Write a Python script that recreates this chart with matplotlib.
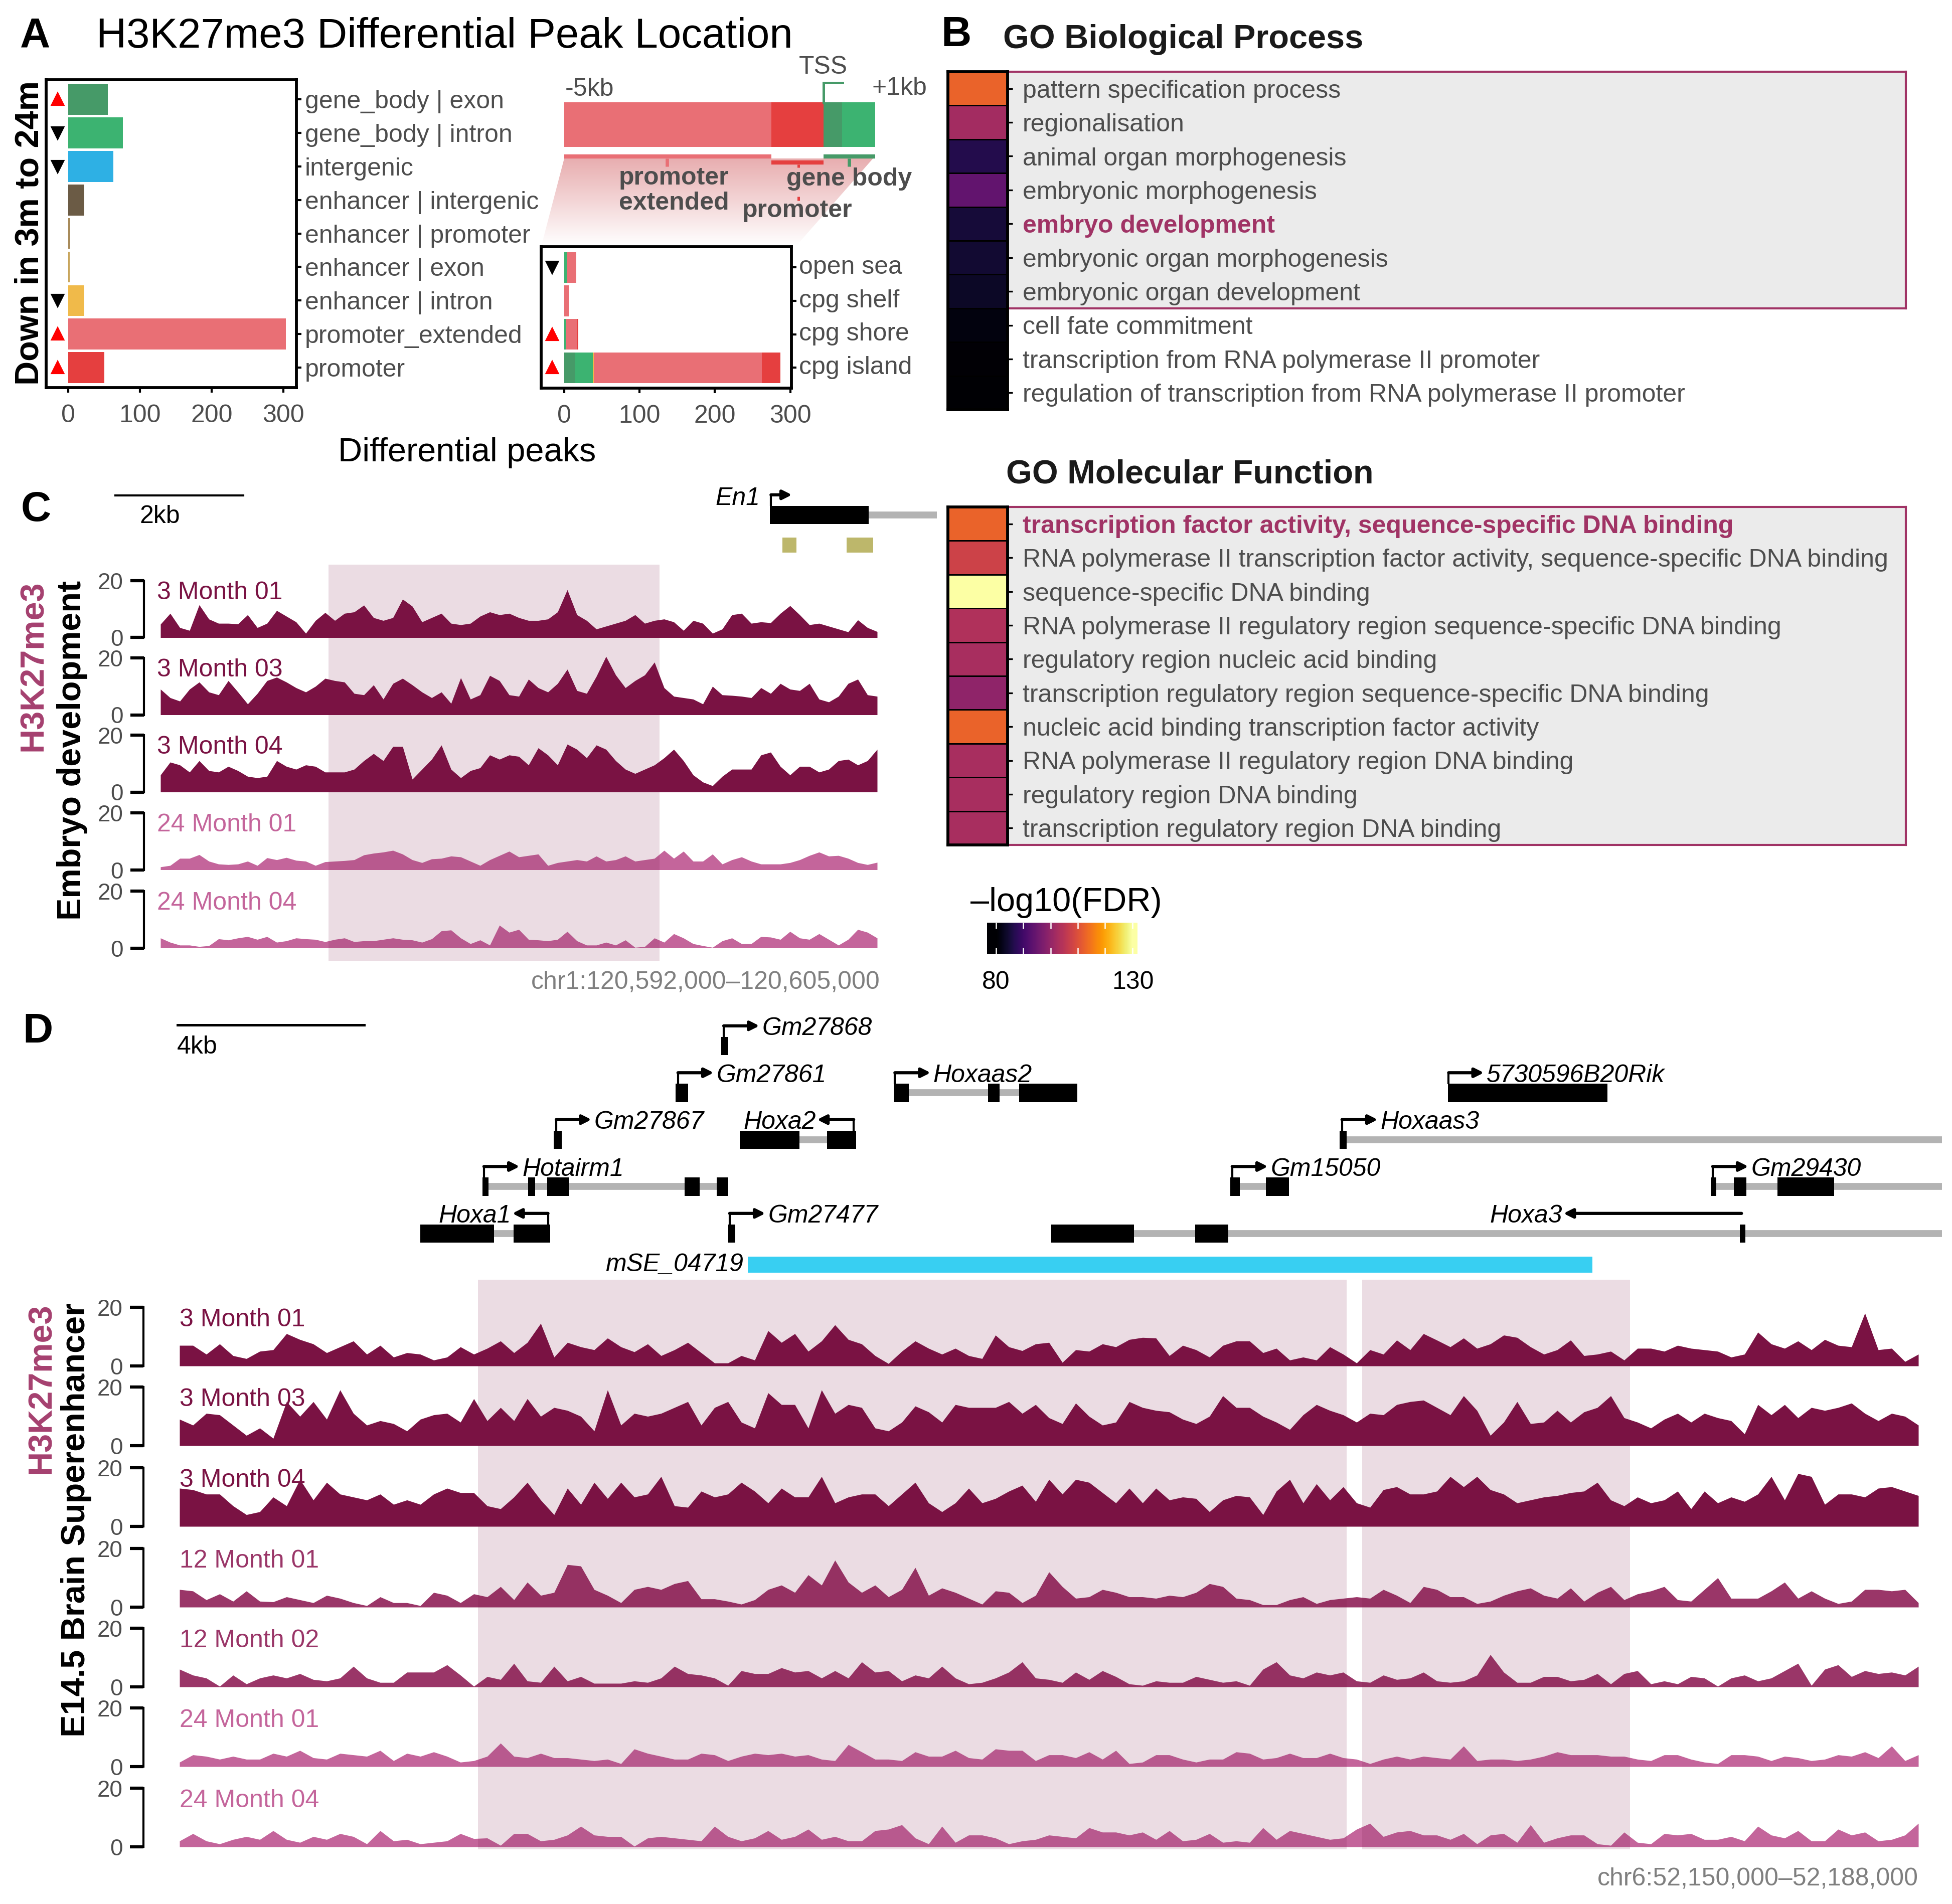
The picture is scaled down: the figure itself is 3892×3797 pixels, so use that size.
import matplotlib
matplotlib.use('Agg')
import matplotlib.pyplot as plt
import numpy as np
from matplotlib.colors import LinearSegmentedColormap
from matplotlib.patches import Polygon, Rectangle
from matplotlib.transforms import ScaledTranslation

plt.rcParams['font.family'] = ['Liberation Sans', 'DejaVu Sans']
plt.rcParams['font.size'] = 12

W, H = 3892, 3797
GREY = '#4D4D4D'
SHADE = '#7A1644'

# === Panel A ===
region_names = ['promoter', 'promoter_extended', 'enhancer | intron', 'enhancer | exon', 'enhancer | promoter',
                'enhancer | intergenic', 'intergenic', 'gene_body | intron', 'gene_body | exon']
region_peaks = [50, 303, 22, 2, 2.5, 22, 63, 76, 55]
region_colors = ['#E53F3F', '#E96F75', '#F0BA4A', '#C8A55C', '#A88B5B', '#6B5B45', '#2EB0E4', '#3CB371', '#469A68']
region_up = [0, 1, 8]
region_down = [2, 6, 7]

cpg_names = ['cpg island', 'cpg shore', 'cpg shelf', 'open sea']
cpg_exon = [15, 0, 0, 0]
cpg_intron = [23, 3, 0, 4]
cpg_enh = [1, 0, 0, 0]
cpg_ext = [223, 13.5, 6, 12]
cpg_prom = [25, 2, 0, 0]
cpg_up = [0, 1]
cpg_down = [3]

# -5kb..+1kb schematic, in kb around the TSS
tss_edges = [-5, -1, 0, 0.36, 1]
tss_colors = ['#E96F75', '#E53F3F', '#469A68', '#3CB371']

# === Panel B ===
bp_terms = ['pattern specification process', 'regionalisation', 'animal organ morphogenesis',
            'embryonic morphogenesis', 'embryo development', 'embryonic organ morphogenesis',
            'embryonic organ development', 'cell fate commitment', 'transcription from RNA polymerase II promoter',
            'regulation of transcription from RNA polymerase II promoter']
bp_fdr = [112.5, 102, 86.5, 94, 85, 84.3, 83.5, 81.2, 80.2, 80]
mf_terms = ['transcription factor activity, sequence-specific DNA binding',
            'RNA polymerase II transcription factor activity, sequence-specific DNA binding',
            'sequence-specific DNA binding', 'RNA polymerase II regulatory region sequence-specific DNA binding',
            'regulatory region nucleic acid binding', 'transcription regulatory region sequence-specific DNA binding',
            'nucleic acid binding transcription factor activity', 'RNA polymerase II regulatory region DNA binding',
            'regulatory region DNA binding', 'transcription regulatory region DNA binding']
mf_fdr = [112.5, 107.5, 130, 103.5, 102.5, 99.5, 112.5, 102.5, 102.5, 102.5]

# === Panel C tracks ===
c_3m01 = [4.7, 8.5, 3.5, 2.5, 11.5, 6.5, 5, 5, 4.8, 8, 3.5, 5, 9.5, 7.5, 5.5, 1.5, 6, 8.8, 6, 8.5, 9, 11.4, 7, 6, 7,
          13.5, 11, 5.5, 7, 8.5, 5, 4.5, 5, 7.5, 9, 8, 8.5, 7, 6, 6, 6.5, 9, 16.8, 8, 6, 3, 4, 5, 6, 8, 5, 6, 6.5,
          5.5, 2.5, 6, 5, 1.5, 3, 8, 8.5, 5, 5.5, 5.2, 8.5, 11.2, 8, 4.5, 5, 4, 3, 2, 6.2, 3.5, 2.1]
c_3m03 = [9, 6, 4.8, 9, 11.5, 8, 7, 12, 8, 3.8, 7.5, 12, 13.2, 11.5, 9.5, 8, 10, 12.8, 12, 11.5, 7.5, 7, 10.5, 5.5,
          11, 12.8, 10.5, 8, 6, 8, 4, 13, 5.5, 7, 13.8, 12, 7, 6.5, 12.5, 9.5, 8, 11, 16, 8.5, 7.5, 13.5, 20.5, 14,
          9.5, 12, 14, 18.5, 9.5, 6.5, 6, 5.5, 3.8, 10, 7, 6.8, 6.5, 6, 9.5, 7.5, 11, 9, 8.5, 11, 5.5, 4.5, 6.5, 11,
          12.5, 7, 6.5]
c_3m04 = [6, 10.5, 9.5, 7, 11, 7.5, 7, 9, 7.5, 5.5, 5, 5.5, 11, 9, 8, 9.5, 9, 7, 7, 7, 8, 11, 13.5, 11, 16, 16, 4.5,
          8, 11.5, 16.5, 8, 5, 7.5, 8.5, 13, 11.5, 13, 12.5, 9.5, 15.5, 13, 9.5, 16.8, 15, 12, 16.5, 15, 11, 8, 6.5,
          8, 9.5, 12, 15, 11, 6, 3.5, 2.2, 5.5, 8, 8, 8, 13, 14, 9, 6, 9, 9, 7, 8, 11, 11.5, 9.5, 11, 15]
c_24m01 = [1, 1.5, 4, 4, 5.3, 3, 2, 1.8, 2, 3, 1.5, 4.2, 3.5, 4.3, 3.3, 3, 1.5, 2.8, 3, 3.2, 3.5, 5.2, 5.8, 6.2, 6.8,
           5.5, 3.5, 2.5, 3.8, 4, 4.8, 4.5, 3, 1.5, 3.5, 5, 6.5, 4.5, 5, 5.5, 1.5, 2.5, 3, 3.5, 3, 4.8, 3, 3.5, 4.8,
           3, 3.5, 4, 6.8, 4, 6.5, 3, 3, 5.5, 2, 3.5, 4.5, 3, 2, 2, 2, 2.5, 3.5, 5, 6.2, 4.8, 5, 4, 2.5, 1.8, 2.6]
c_24m04 = [3.5, 2, 1, 1, 0.5, 0.8, 3.2, 2.8, 3.5, 4, 3, 4, 2, 2.5, 3.5, 3.2, 3, 2.2, 3, 3.5, 2.2, 2.5, 2.5, 3, 3.5, 3,
           2.8, 2, 3.2, 6, 6.3, 3.5, 1.5, 2.8, 1, 8, 5.5, 6.5, 3, 2.8, 2.5, 3, 5.8, 2.5, 1, 1, 2, 1, 2.8, 0.2, 0.5,
           3.5, 2, 5, 3.5, 1.5, 0.8, 0.2, 2.5, 3.5, 1.5, 1.5, 4, 3.8, 3, 5.8, 3.5, 3, 5, 3, 1, 3, 6.5, 5.5, 3.5]
c_names = ['3 Month 01', '3 Month 03', '3 Month 04', '24 Month 01', '24 Month 04']
c_tracks = [c_3m01, c_3m03, c_3m04, c_24m01, c_24m04]
c_colors = ['#7A1243', '#7A1243', '#7A1243', '#C4659B', '#C4659B']
c_shade = [(3.05, 9.05)]

# === Panel D tracks ===
d_3m01 = [7, 7, 4, 7.5, 3.5, 2.5, 5, 5.5, 11, 9, 7.5, 4.5, 6.5, 8.5, 4, 7, 3, 4.5, 4, 2, 3, 6.5, 4, 6, 8.5, 4.5, 8,
          14.5, 3, 8, 6.5, 5.5, 9.5, 6.5, 4.8, 7.5, 3.5, 5.5, 8, 4.5, 1, 1, 3.5, 2, 12, 8, 11, 5, 8.5, 14, 9, 7.5,
          3.5, 0.8, 5, 8.5, 6, 4, 6, 3.5,
          2.5, 10.5, 6.5, 5.2, 7.5, 8, 1.2, 5.5, 5, 7.5, 6.5, 9, 9.7, 9.5, 3.5, 7, 5.5, 3, 7, 8.5, 8.5, 4.5, 6, 2, 3,
          2, 6.5, 4, 1, 5.5, 4, 8.8, 5.5, 11, 8.8, 6.5, 9.5, 6, 7.5, 10.5, 9.7, 6.5, 4, 5.5, 8.8, 3.5, 4, 5, 2, 6, 6,
          5, 7, 6, 5.5, 5, 3, 4, 11.5, 7.5, 6, 8.5, 5.5, 9, 7, 6.5, 18, 5.5, 6, 1.5, 4]
d_3m03 = [9, 7, 11, 10.5, 7, 3.5, 6, 2.5, 15, 10, 15, 9, 19, 11, 7, 8.5, 7.5, 5, 9, 10.5, 11, 8, 16, 8.5, 13, 8.5, 16,
          10, 13, 12, 10, 5, 19, 7, 11, 10, 11, 13, 15, 7, 13, 15, 8, 6, 18, 14, 14, 6, 19, 11, 14, 13, 6, 5, 8, 13.5,
          11.5, 8, 14, 13,
          13, 13, 15, 11, 14, 9.5, 7.5, 14.5, 10, 7, 8, 15, 13, 12, 11.5, 9, 7.5, 10, 17, 13, 13, 10, 8, 5.5, 10.5, 14,
          12, 10.5, 8, 11, 10.5, 14, 15, 15.5, 13, 10.5, 17, 12, 3.5, 8, 15, 7.5, 8, 12, 8, 11.5, 13, 17, 9.5, 8, 6, 9,
          11, 8, 11, 9.5, 8.5, 4, 14, 10.5, 14, 9.5, 13, 12, 13, 14.5, 11, 8.5, 11, 10, 7]
d_3m04 = [13, 12.5, 11, 11, 7, 4, 5, 10, 7, 16, 9, 15, 11, 10, 9, 11, 7.5, 9, 7.5, 11, 13, 11.5, 11.5, 7, 6, 10, 15, 9,
          4, 13, 7.5, 15, 9.5, 15, 10, 11, 17, 7, 6.5, 12, 10, 11, 15, 12, 8, 13, 10, 10, 17, 8, 10, 11, 11, 7, 11, 15,
          8, 5, 8, 13,
          8, 9.5, 12, 14, 8.5, 16, 11, 16, 15, 11.5, 8, 13, 8, 13, 9, 10, 9.5, 5, 9, 10.5, 10, 4, 12, 16, 8, 14.5, 9,
          13.5, 8, 6.5, 12.5, 13.5, 11, 11, 12, 17, 13.5, 17, 12.5, 11, 8, 9, 10, 10.5, 11.5, 12, 15, 9, 7, 10, 8, 9,
          12, 6, 12, 8, 10, 8.5, 11, 17, 9, 18, 17, 7.5, 11, 11, 10, 13, 13.5, 12, 10.5]
d_12m01 = [6, 5.5, 2.5, 4.5, 2, 5.5, 2, 1.8, 3.5, 2.5, 1.5, 4, 3, 1.5, 0.5, 3.5, 1.5, 1.5, 0.5, 5, 4, 1.5, 4.5, 3.5, 7,
           2.5, 8.5, 4, 5, 14.5, 14, 6, 4, 1.5, 6, 7, 6, 8, 9, 2.8, 2.8, 2, 1, 2.5, 6, 7.5, 5, 11, 7.5, 16, 8.5, 5, 7.5,
           3.5, 6, 13.5, 4, 6.5, 5, 3,
           1, 5.5, 5, 1.5, 4, 12, 7, 3, 3.5, 6, 5, 3.5, 3.5, 3, 4, 3.5, 5, 8, 7, 3, 2.5, 0.8, 0.8, 2.5, 3.5, 1.2, 2.5, 3,
           3.5, 3, 6, 4, 1.5, 7, 6, 3.5, 3.5, 1.2, 2, 4, 5.5, 6.5, 4, 3, 6.5, 2, 5, 7, 2.5, 4.5, 5.5, 7, 2.5, 2, 6, 10,
           3, 3, 3, 5.5, 8.5, 3, 5.5, 3, 1.2, 2, 6, 6, 5.5, 6, 1.5]
d_12m02 = [6, 4, 3, 0.2, 4, 1, 3, 4, 3, 4.5, 2.5, 2, 3, 7, 3, 1.5, 1.5, 5, 5, 5, 7.5, 4, 0.2, 3.5, 2.5, 8, 2, 1.5, 7,
           2, 3.5, 1.2, 1.2, 1.2, 2, 1.5, 3, 7, 4.5, 4, 3, 0.5, 5.5, 4.5, 4.5, 6.5, 5, 5.5, 3, 5.5, 3, 8.5, 5, 5.5, 2,
           4, 3, 7, 3, 1,
           1.5, 3, 5, 8.5, 3, 2.5, 1.5, 5, 2.5, 5.5, 3.5, 1, 0.5, 2, 1.5, 1.5, 3.5, 2.5, 1.5, 2, 0.5, 6, 8.5, 4, 3, 5, 4,
           5, 2, 1.5, 4, 2.5, 3, 5, 2, 1.5, 2, 4, 11, 5, 1.5, 1.5, 3.5, 3.5, 2, 2.5, 4.5, 1, 4.5, 5.5, 1, 2, 1, 3.5, 3,
           0.2, 3, 4, 2, 3, 5.5, 8, 0.5, 6, 7.5, 3.5, 5.5, 4.5, 5, 4, 7]
d_24m01 = [1.5, 4, 3.5, 2.5, 3.5, 2.5, 2.5, 4.5, 3.5, 5.5, 3, 2.5, 4.5, 4, 3.5, 5.5, 2, 4.5, 3.5, 5, 3.5, 1.5, 2, 3.5,
           8, 3.5, 3, 4.5, 3, 3, 2.5, 2, 2.5, 1, 6, 4.5, 3.5, 2.5, 2.5, 4.5, 4, 2, 3.5, 4.5, 4, 4.5, 3.5, 4, 2.5, 2,
           7.5, 5, 2.5, 2.5, 2, 5, 3.5, 3.5, 5.5, 3,
           2.5, 6, 5.5, 5.5, 2, 4, 4, 3, 5, 2.5, 5.5, 1, 1.5, 4, 4, 2.5, 1.5, 2.5, 2.5, 5, 4.5, 2.5, 3, 4.5, 3, 3, 4.5,
           3, 2.5, 1, 2.5, 3.5, 2.5, 3.5, 3, 2.5, 7, 2, 2.5, 2.5, 2, 2.5, 3.5, 5, 4, 4, 4, 3.5, 3.5, 2.5, 2, 4, 4, 2.5,
           1.5, 1, 4, 4, 3.5, 2, 3.5, 3, 2, 2.5, 4, 3.5, 5, 3, 7, 2, 4]
d_24m04 = [2, 4.5, 2, 1, 2.5, 3.5, 2.5, 5.5, 2.5, 1.5, 3.5, 2.5, 4.5, 3.5, 1, 5.5, 2, 2.5, 1, 1.5, 2, 4.5, 2.8, 3, 0.5,
           4.5, 4.5, 2, 2.5, 4, 7, 4, 3.5, 3.5, 0.2, 3, 3.5, 3, 2.5, 2, 7, 3.5, 2, 3, 5.5, 2.5, 3.5, 6, 2.5, 3.5, 2, 2,
           5.5, 6, 7.5, 3, 1, 7, 1.5, 4,
           4, 3, 1, 2, 2.5, 4, 3.5, 3, 6.5, 5, 5, 4, 5, 2.5, 5.5, 2, 2.5, 4.5, 1.5, 2, 1.5, 6.5, 2.5, 5.5, 4.5, 3.5, 2.5,
           3, 6, 8, 3.5, 5, 5.5, 4, 4, 2.5, 4.5, 1, 4, 4.5, 1.5, 7.5, 1.5, 3, 4, 4, 1, 0.5, 5, 1.5, 1, 4.5, 4, 4.5, 2.5,
           2.5, 3.5, 2, 7, 4, 3, 5.5, 2, 2, 6, 4, 5, 2, 2.5, 4, 8]
d_names = ['3 Month 01', '3 Month 03', '3 Month 04', '12 Month 01', '12 Month 02', '24 Month 01', '24 Month 04']
d_tracks = [d_3m01, d_3m03, d_3m04, d_12m01, d_12m02, d_24m01, d_24m04]
d_colors = ['#7A1243', '#7A1243', '#7A1243', '#9A3668', '#9A3668', '#C4659B', '#C4659B']
d_shade = [(6.52, 25.5), (25.84, 31.7)]

# genes in kb from the window start: row, tss, arrow tip, exons, intron span, name
d_genes = [
    (4, 11.89, 12.67, [(11.84, 11.99)], None, 'Gm27868'),
    (3, 10.89, 11.67, [(10.84, 11.11)], None, 'Gm27861'),
    (3, 15.63, 16.41, [(15.61, 15.93), (17.67, 17.92), (18.34, 19.62)], (15.61, 19.62), 'Hoxaas2'),
    (3, 27.73, 28.5, [(27.71, 31.2)], None, '5730596B20Rik'),
    (2, 8.23, 9.0, [(8.18, 8.35)], None, 'Gm27867'),
    (2, 14.73, 13.93, [(12.24, 13.55), (14.15, 14.78)], (12.24, 14.78), 'Hoxa2'),
    (2, 25.4, 26.18, [(25.35, 25.5)], (25.35, 38.51), 'Hoxaas3'),
    (1, 6.65, 7.43, [(6.62, 6.75), (7.62, 7.77), (8.03, 8.5), (11.04, 11.36), (11.74, 11.99)], (6.62, 11.99), 'Hotairm1'),
    (1, 23.0, 23.78, [(22.96, 23.17), (23.74, 24.24)], (22.96, 24.24), 'Gm15050'),
    (1, 33.5, 34.28, [(33.46, 33.58), (33.96, 34.24), (34.92, 36.15)], (33.46, 38.51), 'Gm29430'),
    (0, 8.05, 7.27, [(5.26, 6.87), (7.30, 8.10)], (5.26, 8.10), 'Hoxa1'),
    (0, 12.02, 12.8, [(11.99, 12.14)], None, 'Gm27477'),
    (0, 34.13, 30.24, [(19.05, 20.86), (22.19, 22.91), (34.09, 34.21)], (19.05, 38.51), 'Hoxa3'),
]
c_genes = [(0, 11.08, 11.46, [(11.06, 12.85)], (11.06, 14.09), 'En1')]
c_motifs = [(11.29, 11.54), (12.45, 12.93)]
mse_span = (12.42, 30.87)


def place(x0, y0, x1, y1, **kw):
    return fig.add_axes([x0 / W, 1 - y1 / H, (x1 - x0) / W, (y1 - y0) / H], **kw)


def label(x, y, s, **kw):
    kw.setdefault('va', 'center')
    return fig.text(x / W, 1 - y / H, s, **kw)


def draw_genes(ax, genes):
    for row, tss, tip, exons, intron, name in genes:
        if intron:
            ax.plot(intron, [row, row], color='#B3B3B3', lw=3.3, solid_capstyle='butt', zorder=1)
        for a, b in exons:
            ax.add_patch(Rectangle((a, row - 0.195), b - a, 0.39, color='k', lw=0, zorder=2))
        top = row + 0.43
        if name != 'Hoxa3':
            ax.plot([tss, tss], [row + 0.19, top], color='k', lw=1, zorder=3, solid_capstyle='butt')
        ax.annotate('', xy=(tip, top), xytext=(tss, top),
                    arrowprops=dict(arrowstyle='-|>', color='k', lw=1.5, shrinkA=0, shrinkB=0, mutation_scale=9))
        if name == 'En1':
            ax.text(10.88, top - 0.08, name, style='italic', ha='right', va='center', fontsize=12)
        elif tip > tss:
            ax.text(tip + 0.06, top - 0.06, name, style='italic', ha='left', va='center', fontsize=12)
        else:
            ax.text(tip - 0.03, top - 0.06, name, style='italic', ha='right', va='center', fontsize=12)


def draw_tracks(tracks, names, colors, tops, height, x_left, x0, x1, kb, shades, shade_y, name_x):
    px_kb = (x1 - x0) / kb
    xlim = ((x_left - x0) / px_kb, kb)
    for vals, name, col, top in zip(tracks, names, colors, tops):
        ax = place(x_left, top, x1, top + height)
        ax.patch.set_alpha(0)
        x = np.linspace(0, kb, len(vals))
        ax.fill_between(x, 0, vals, color=col, lw=0, clip_on=False)
        ax.set_xlim(*xlim)
        ax.set_ylim(0, 20)
        ax.set_xticks([])
        ax.set_yticks([0, 20])
        ax.tick_params(axis='y', length=6.5, width=1.5, pad=3.5, labelsize=11, labelcolor=GREY)
        for s in ['top', 'right', 'bottom']:
            ax.spines[s].set_visible(False)
        ax.spines['left'].set_linewidth(1)
        ax.text(name_x, 15.8, name, color=col, fontsize=12, va='center', ha='left')
    over = place(x_left, shade_y[0], x1, shade_y[1])
    over.set_xlim(*xlim)
    over.axis('off')
    for a, b in shades:
        over.axvspan(a, b, color=SHADE, alpha=0.15, lw=0)


fig = plt.figure(figsize=(W / 300, H / 300), dpi=300)

# === Panel A ===
label(40, 73, 'A', fontsize=20, fontweight='bold')
label(192, 73, 'H3K27me3 Differential Peak Location', fontsize=20)

ax = place(92, 159, 591, 773)
ax.barh(range(9), region_peaks, height=0.92, color=region_colors)
ax.plot([-15] * 3, region_up, '^', color='red', ms=5.5)
ax.plot([-15] * 3, region_down, 'v', color='k', ms=5.5)
ax.set_xlim(-31, 318)
ax.set_ylim(-0.6, 8.59)
ax.set_xticks([0, 100, 200, 300])
ax.yaxis.tick_right()
ax.set_yticks(range(9))
ax.set_yticklabels(region_names)
ax.tick_params(axis='y', length=2.5, width=1, pad=1.5, labelcolor=GREY, labelsize=12)
ax.tick_params(axis='x', length=2.5, width=1, pad=5.5, labelcolor=GREY, labelsize=12)
for s in ax.spines.values():
    s.set_linewidth(1.4)

# schematic of the promoter bins, with the fade down to the CpG panel
sch = place(1070, 120, 1860, 500)
sch.axis('off')
cmap_fade = LinearSegmentedColormap.from_list('fade', ['#E8AEB0', '#FFFFFF'])
fade = sch.imshow(np.linspace(0, 1, 100).reshape(-1, 1), extent=[-5.53, 2.1, 490, 316], aspect='auto', cmap=cmap_fade)
fade.set_clip_path(Polygon([(-5, 316), (0.96, 316), (-0.52, 490), (-5.44, 490)], transform=sch.transData))
for i, col in enumerate(tss_colors):
    sch.barh(248, tss_edges[i + 1] - tss_edges[i], left=tss_edges[i], height=89, color=col)
sch.plot([0, 0, 0.37], [204, 165, 165], color='#469A68', lw=1.2, solid_joinstyle='miter')
sch.plot([-5, -1], [312, 312], color='#E96F75', lw=2, solid_capstyle='butt')
sch.plot([-1, 0], [323.5, 323.5], color='#E53F3F', lw=2, solid_capstyle='butt')
sch.plot([0, 1], [312, 312], color='#469A68', lw=2, solid_capstyle='butt')
sch.plot([-3.02, -3.02], [316, 332], color='#E96F75', lw=1.6, solid_capstyle='butt')
sch.plot([-0.48, -0.48], [328, 334], color='#E53F3F', lw=1.2, solid_capstyle='butt')
sch.plot([-0.48, -0.48], [392, 400], color='#E53F3F', lw=1.2, solid_capstyle='butt')
sch.plot([0.5, 0.5], [316, 332], color='#469A68', lw=1.6, solid_capstyle='butt')
sch.set_xlim(-5.532, 2.115)
sch.set_ylim(500, 120)
sch.text(-4.98, 178, '-5kb', color=GREY, va='center')
sch.text(2.0, 176, '+1kb', color=GREY, va='center', ha='right')
sch.text(0, 134, 'TSS', color=GREY, va='center', ha='center')
sch.text(-2.88, 355, 'promoter', color=GREY, va='center', ha='center', fontweight='bold')
sch.text(-2.88, 405, 'extended', color=GREY, va='center', ha='center', fontweight='bold')
sch.text(-0.5, 420, 'promoter', color=GREY, va='center', ha='center', fontweight='bold')
sch.text(0.5, 357, 'gene body', color=GREY, va='center', ha='center', fontweight='bold')

ax = place(1079, 492, 1578, 774)
ax.set_zorder(3)
left = np.zeros(4)
for vals, col in zip([cpg_exon, cpg_intron, cpg_enh, cpg_ext, cpg_prom],
                     ['#469A68', '#3CB371', '#F0BA4A', '#E96F75', '#E53F3F']):
    ax.barh(range(4), vals, left=left, height=0.92, color=col)
    left += np.array(vals)
ax.plot([-16] * 2, cpg_up, '^', color='red', ms=5.5)
ax.plot([-16], cpg_down, 'v', color='k', ms=5.5)
ax.set_xlim(-30.6, 301.6)
ax.set_ylim(-0.61, 3.62)
ax.set_xticks([0, 100, 200, 300])
ax.yaxis.tick_right()
ax.set_yticks(range(4))
ax.set_yticklabels(cpg_names)
ax.tick_params(axis='y', length=2.5, width=1, pad=1, labelcolor=GREY, labelsize=12)
ax.tick_params(axis='x', length=2.5, width=1, pad=5.5, labelcolor=GREY, labelsize=12)
for t in ax.get_yticklabels():
    t.set_transform(t.get_transform() + ScaledTranslation(0, 1.3 / 72, fig.dpi_scale_trans))
for s in ax.spines.values():
    s.set_linewidth(1.4)

label(931, 903, 'Differential peaks', fontsize=16, ha='center')
label(60, 464, 'Down in 3m to 24m', fontsize=16, fontweight='bold', rotation=90, ha='center')

# === Panel B ===
label(1876, 70, 'B', fontsize=20, fontweight='bold')
label(2000, 79, 'GO Biological Process', fontsize=16, fontweight='bold', color='#1A1A1A')
label(2006, 947, 'GO Molecular Function', fontsize=16, fontweight='bold', color='#1A1A1A')

for terms, fdr, y_top, n_box, bold in [(bp_terms, bp_fdr, 143, 7, 4), (mf_terms, mf_fdr, 1011, 10, 0)]:
    row_h = 67.4
    box = place(2009, y_top, 3800, y_top + n_box * row_h)
    box.set_facecolor('#EBEBEB')
    box.set_xticks([])
    box.set_yticks([])
    for s in box.spines.values():
        s.set_color('#A03365')
        s.set_linewidth(1)
    hm = place(1890, y_top, 2009, y_top + 10 * row_h)
    hm.pcolormesh(np.array(fdr[::-1]).reshape(-1, 1), cmap='inferno', vmin=80, vmax=130, edgecolors='k', linewidth=0.25)
    hm.set_xticks([])
    hm.yaxis.tick_right()
    hm.set_yticks(np.arange(10) + 0.5)
    hm.set_yticklabels(terms[::-1])
    hm.tick_params(length=2.5, width=0.8, pad=4.6, labelcolor=GREY, labelsize=12)
    t = hm.get_yticklabels()[9 - bold]
    t.set_fontweight('bold')
    t.set_color('#A03365')
    for s in hm.spines.values():
        s.set_linewidth(1.4)

# colour scale
cb = place(1968, 1840, 2268, 1902)
grid = np.linspace(76.7, 131.9, 300)
cb.pcolormesh(grid, [0, 1], grid[:-1].reshape(1, -1), cmap='inferno', vmin=80, vmax=130)
for v in [80, 90, 100, 110, 120, 130]:
    cb.vlines(v, 0, 0.2, color='w', lw=0.6)
    cb.vlines(v, 0.8, 1, color='w', lw=0.6)
cb.axis('off')
label(1935, 1800, '–log10(FDR)', fontsize=16)
label(1986, 1959, '80', ha='center', fontsize=12)
label(2259, 1959, '130', ha='center', fontsize=12)

# === Panel C ===
label(42, 1017, 'C', fontsize=20, fontweight='bold')
gc = place(200, 960, 1868, 1110)
gc.axis('off')
gc.set_xlim(-1.09, 14.09)
gc.set_ylim(-0.888, 0.717)
draw_genes(gc, c_genes)
for a, b in c_motifs:
    gc.barh(-0.64, b - a, left=a, height=0.32, color='#BDB76B')
gc.plot([-0.82, 1.5], [0.417, 0.417], color='k', lw=1)
label(319, 1030, '2kb', ha='center', fontsize=12)
draw_tracks(c_tracks, c_names, c_colors, [1158, 1312, 1466, 1621, 1777], 113.5, 287, 320, 1749, 13,
            c_shade, (1126, 1916), -0.06)
label(1755, 1958, 'chr1:120,592,000–120,605,000', color='#7F7F7F', ha='right')
label(67, 1328, 'H3K27me3', fontsize=16, fontweight='bold', rotation=90, ha='center', color='#A5406F')
label(144, 1496, 'Embryo development', fontsize=16, fontweight='bold', rotation=90, ha='center')

# === Panel D ===
label(45, 2057, 'D', fontsize=20, fontweight='bold')
gd = place(286, 2015, 3872, 2545)
gd.axis('off')
gd.set_xlim(-0.79, 38.51)
gd.set_ylim(-0.909, 4.759)
draw_genes(gd, d_genes)
gd.barh(-0.663, mse_span[1] - mse_span[0], left=mse_span[0], height=0.345, color='#38CFF2')
gd.text(12.32, -0.663, 'mSE_04719', style='italic', ha='right', va='center')
gd.plot([-0.05, 4.03], [4.45, 4.45], color='k', lw=1.2)
label(353, 2088, '4kb', fontsize=12)
draw_tracks(d_tracks, d_names, d_colors, [2607, 2766, 2927, 3088, 3247, 3406, 3566], 117, 286, 358, 3825, 38,
            d_shade, (2552, 3688), 0)
label(3825, 3747, 'chr6:52,150,000–52,188,000', color='#7F7F7F', ha='right')
label(83, 2769, 'H3K27me3', fontsize=16, fontweight='bold', rotation=90, ha='center', color='#A5406F')
label(152, 3031, 'E14.5 Brain Superenhancer', fontsize=16, fontweight='bold', rotation=90, ha='center')

fig.savefig('out.png', dpi=300)
